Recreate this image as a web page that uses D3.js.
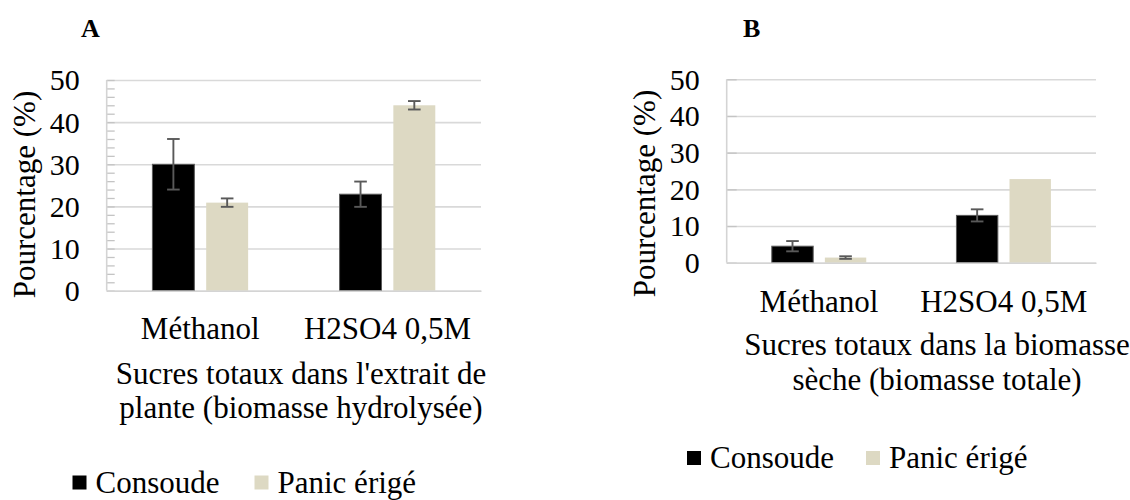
<!DOCTYPE html>
<html>
<head>
<meta charset="utf-8">
<script src="https://cdn.jsdelivr.net/npm/d3@7"></script>
<style>
  html, body { margin: 0; padding: 0; background: #fff; }
  svg text { font-family: "Liberation Serif", "Times New Roman", serif; }
</style>
</head>
<body>
<svg id="fig" width="1130" height="500"></svg>
<script>
// Categories and series
const categories = ["Méthanol", "H2SO4 0,5M"];
const seriesNames = ["Consoude", "Panic érigé"];
const seriesColors = ["#000000", "#ddd9c3"];
const yTicks = [0, 10, 20, 30, 40, 50];

// Panel A: sugars in the plant extract (hydrolysed biomass)
const aConsoude = [30, 22.9];
const aConsoudeErr = [6, 3];
const aPanic = [20.9, 44];
const aPanicErr = [1, 1];
const aTitle = ["Sucres totaux dans l'extrait de", "plante (biomasse hydrolysée)"];

// Panel B: sugars in the dry biomass (total biomass)
const bConsoude = [4.5, 12.9];
const bConsoudeErr = [1.4, 1.65];
const bPanic = [1.4, 22.8];
const bPanicErr = [0.35, 0];
const bTitle = ["Sucres totaux dans la biomasse", "sèche (biomasse totale)"];

const svg = d3.select("#fig");

function panel(opt) {
  const g = svg.append("g");
  const x = d3.scaleBand().domain(categories).range([opt.left, opt.right]).padding(0);
  const xs = d3.scaleBand().domain(seriesNames).range([0, x.bandwidth()])
    .paddingInner(0.22).paddingOuter(0.85);
  const y = d3.scaleLinear().domain([0, 50]).range([opt.bottom, opt.top]);
  const w = opt.right - opt.left;

  // gridlines + tick labels
  const ya = g.append("g").attr("transform", `translate(${opt.left},0)`)
    .call(d3.axisLeft(y).tickValues(yTicks).tickSize(-w).tickPadding(27));
  ya.attr("font-family", null);
  ya.select(".domain").remove();
  ya.selectAll("line").attr("stroke", "#d9d9d9").attr("stroke-width", 1.6);
  ya.selectAll("text").attr("font-size", 30).attr("fill", "#000").attr("dy", "0.33em");

  // inner tick marks on the value axis
  const tm = g.append("g").attr("transform", `translate(${opt.left},0)`)
    .call(d3.axisLeft(y).tickValues(opt.minor).tickSize(-opt.tickLen).tickFormat(""));
  tm.select(".domain").remove();
  tm.selectAll("line").attr("stroke", "#c4c4c4").attr("stroke-width", 1.3);

  // value axis line
  g.append("line").attr("x1", opt.left).attr("x2", opt.left)
    .attr("y1", y(50)).attr("y2", y(0)).attr("stroke", "#d4d4d4").attr("stroke-width", 1.6);

  // bars
  const data = categories.map((c, i) => [
    { cat: c, s: seriesNames[0], v: opt.s1[i], e: opt.e1[i], color: seriesColors[0] },
    { cat: c, s: seriesNames[1], v: opt.s2[i], e: opt.e2[i], color: seriesColors[1] }
  ]).flat();

  g.selectAll("rect.bar").data(data).enter().append("rect")
    .attr("class", "bar")
    .attr("x", d => x(d.cat) + xs(d.s))
    .attr("width", xs.bandwidth())
    .attr("y", d => y(d.v))
    .attr("height", d => y(0) - y(d.v))
    .attr("fill", d => d.color)
    .attr("stroke", d => d.s === seriesNames[0] ? "#5a5a5a" : "none")
    .attr("stroke-width", 1);

  // category axis
  const xa = g.append("g").attr("transform", `translate(0,${y(0)})`)
    .call(d3.axisBottom(x).tickSize(0));
  xa.attr("font-family", null);
  xa.select(".domain").attr("stroke", "#d4d4d4").attr("stroke-width", 1.6);
  xa.selectAll("text").attr("font-size", 31).attr("fill", "#000")
    .attr("y", opt.labelOffset).attr("dy", 0);

  // error bars
  const eb = data.filter(d => d.e > 0);
  const cap = 6.3;
  const ebg = g.append("g").attr("stroke", "#595959").attr("stroke-width", 1.9);
  eb.forEach(d => {
    const cx = x(d.cat) + xs(d.s) + xs.bandwidth() / 2;
    ebg.append("line").attr("x1", cx).attr("x2", cx).attr("y1", y(d.v + d.e)).attr("y2", y(d.v - d.e));
    ebg.append("line").attr("x1", cx - cap).attr("x2", cx + cap).attr("y1", y(d.v + d.e)).attr("y2", y(d.v + d.e));
    ebg.append("line").attr("x1", cx - cap).attr("x2", cx + cap).attr("y1", y(d.v - d.e)).attr("y2", y(d.v - d.e));
  });

  // value axis title
  g.append("text")
    .attr("transform", `translate(${opt.yTitleX},${opt.yTitleY}) rotate(-90)`)
    .attr("text-anchor", "middle").attr("font-size", 31).attr("fill", "#000")
    .text("Pourcentage (%)");

  // category axis title (two lines)
  g.append("g").selectAll("text").data(opt.title).enter().append("text")
    .attr("x", opt.titleX).attr("y", (d, i) => opt.titleY + i * 34.5)
    .attr("text-anchor", "middle").attr("font-size", 31).attr("fill", "#000")
    .text(d => d);

  // panel letter
  g.append("text").attr("x", opt.letterX).attr("y", 36.5)
    .attr("font-size", 26).attr("font-weight", "bold").attr("fill", "#000")
    .text(opt.letter);

  // legend
  const lg = g.append("g");
  seriesNames.forEach((s, i) => {
    lg.append("rect").attr("x", opt.legendX[i]).attr("y", opt.legendY - 17)
      .attr("width", 14).attr("height", 14).attr("fill", seriesColors[i]);
    lg.append("text").attr("x", opt.legendX[i] + 23).attr("y", opt.legendY)
      .attr("font-size", 31).attr("fill", "#000").text(s);
  });
}

panel({
  left: 106.7, right: 481, top: 80, bottom: 290.7,
  s1: aConsoude, e1: aConsoudeErr, s2: aPanic, e2: aPanicErr,
  minor: d3.range(0, 51, 2), tickLen: 8,
  labelOffset: 48.5,
  yTitleX: 35, yTitleY: 194.5,
  title: aTitle, titleX: 301, titleY: 383.5,
  letter: "A", letterX: 81,
  legendX: [72.5, 254.5], legendY: 492.5
});

panel({
  left: 726.7, right: 1096, top: 79.3, bottom: 262.7,
  s1: bConsoude, e1: bConsoudeErr, s2: bPanic, e2: bPanicErr,
  minor: yTicks, tickLen: 10,
  labelOffset: 49,
  yTitleX: 655, yTitleY: 193.5,
  title: bTitle, titleX: 937, titleY: 355,
  letter: "B", letterX: 743,
  legendX: [687, 866], legendY: 468
});
</script>
</body>
</html>
